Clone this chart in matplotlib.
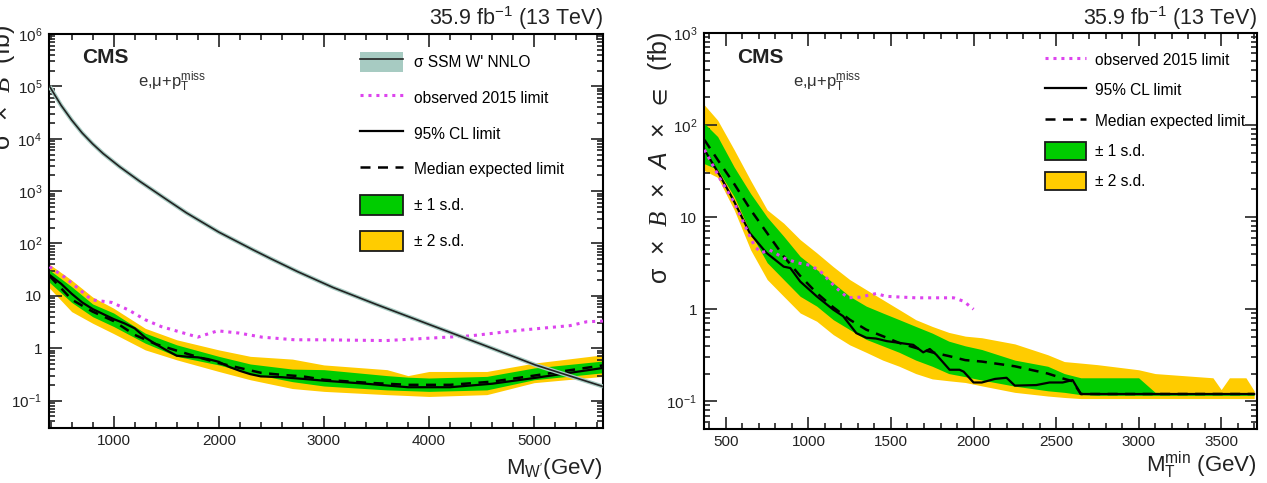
"""
Two-panel CMS limit plot: W' -> e,mu + MET exclusion limits (left) and
model-independent limits vs M_T^min (right).
"""
import matplotlib

matplotlib.use("Agg")
import matplotlib.pyplot as plt
from matplotlib.lines import Line2D
from matplotlib.patches import Patch
from matplotlib.ticker import FixedLocator, FixedFormatter, LogLocator, MultipleLocator, NullFormatter

# ---------------- left panel: sigma x B vs M_W' ----------------
theory_mass = [390, 500, 600, 700, 800, 900, 1057, 1250, 1500, 1692, 2000, 2327, 2500, 2750, 3089, 3500, 4010,
               4500, 5010, 5655]
theory_xsec = [1.0e5, 4.34e4, 2.28e4, 1.29e4, 7.98e3, 5.21e3, 2.92e3, 1.53e3, 698, 385, 165, 75.5, 50.7, 29.0,
               14.4, 6.84, 2.8, 1.19, 0.48, 0.186]

band_mass_l = [390, 600, 800, 1000, 1300, 1600, 2000, 2300, 2700, 3000, 3600, 3800, 4000, 4550, 5000, 5655]
two_up_l = [40, 20, 9.5, 5.8, 2.4, 1.45, 0.93, 0.70, 0.62, 0.48, 0.39, 0.30, 0.36, 0.36, 0.52, 0.75]
one_up_l = [31, 15, 7.0, 4.7, 1.94, 1.16, 0.70, 0.50, 0.40, 0.39, 0.30, 0.28, 0.27, 0.29, 0.42, 0.57]
one_dn_l = [18, 7.5, 4.0, 2.6, 1.25, 0.70, 0.48, 0.33, 0.23, 0.19, 0.16, 0.155, 0.15, 0.16, 0.25, 0.34]
two_dn_l = [14, 5.0, 3.0, 1.9, 0.93, 0.60, 0.36, 0.25, 0.17, 0.15, 0.13, 0.125, 0.12, 0.13, 0.22, 0.29]

exp_mass_l = [390, 500, 600, 800, 1000, 1200, 1400, 1600, 1800, 2000, 2200, 2400, 2600, 2800, 3000, 3400, 3800,
              4200, 4600, 5000, 5300, 5655]
exp_lim_l = [24, 14, 8.5, 5.0, 3.3, 1.8, 1.2, 0.9, 0.68, 0.52, 0.42, 0.34, 0.31, 0.29, 0.25, 0.22, 0.20,
             0.20, 0.23, 0.30, 0.37, 0.47]

obs_mass_l = [390, 500, 600, 700, 800, 1000, 1100, 1200, 1300, 1400, 1500, 1600, 1700, 1800, 1900, 2000, 2100, 2200,
              2300, 2400, 2600, 2800, 3000, 3400, 3800, 4200, 4600, 5000, 5300, 5655]
obs_lim_l = [25, 17, 11, 7.5, 5.6, 3.6, 3.0, 2.4, 1.6, 1.2, 0.92, 0.72, 0.69, 0.67, 0.62, 0.55, 0.44, 0.37,
             0.32, 0.29, 0.28, 0.26, 0.24, 0.21, 0.18, 0.18, 0.21, 0.27, 0.33, 0.42]

old_mass_l = [390, 530, 660, 790, 980, 1140, 1300, 1450, 1610, 1800, 1990, 2190, 2410, 2720, 2960, 3590, 4010,
              4390, 4860, 5340, 5500, 5655]
old_lim_l = [36, 23, 14, 8.4, 7.5, 5.4, 3.5, 2.6, 2.1, 1.63, 2.15, 1.95, 1.63, 1.45, 1.45, 1.4, 1.56,
             1.72, 2.2, 2.7, 3.2, 3.3]

# ---------------- right panel: sigma x B x A x eff vs M_T^min ----------------
band_mass_r = [370, 450, 550, 650, 750, 850, 950, 1050, 1150, 1250, 1350, 1450, 1550, 1650, 1750, 1850, 1950,
               2050, 2250, 2450, 2550, 2650, 2750, 3000, 3100, 3450, 3500, 3550, 3650, 3700]
two_up_r = [165, 113, 54, 25, 12, 8.6, 5.7, 4.1, 2.9, 2.1, 1.63, 1.27, 0.99, 0.77, 0.65, 0.56, 0.51,
            0.49, 0.42, 0.32, 0.27, 0.26, 0.25, 0.22, 0.20, 0.18, 0.134, 0.18, 0.18, 0.13]
one_up_r = [104, 75, 35, 18, 10, 6.2, 3.75, 2.7, 1.93, 1.38, 1.08, 0.91, 0.77, 0.65, 0.55, 0.45, 0.40,
            0.365, 0.28, 0.24, 0.20, 0.18, 0.18, 0.18, 0.125, 0.122, 0.122, 0.122, 0.122, 0.122]
one_dn_r = [38, 33, 16.7, 6.7, 3.2, 2.1, 1.38, 1.08, 0.77, 0.60, 0.47, 0.40, 0.34, 0.28, 0.24, 0.20, 0.185,
            0.17, 0.146, 0.13, 0.125, 0.118, 0.116, 0.116, 0.116, 0.116, 0.116, 0.116, 0.116, 0.116]
two_dn_r = [32, 27, 12, 4.4, 2.1, 1.38, 0.91, 0.74, 0.53, 0.41, 0.34, 0.28, 0.24, 0.20, 0.175, 0.167, 0.16,
            0.147, 0.125, 0.114, 0.11, 0.107, 0.107, 0.107, 0.107, 0.107, 0.107, 0.107, 0.107, 0.107]

exp_mass_r = [370, 450, 550, 650, 750, 850, 950, 1050, 1150, 1250, 1350, 1450, 1550, 1650, 1750, 1850, 1950,
              2050, 2250, 2450, 2550, 2600, 2650, 3700]
exp_lim_r = [69, 42, 23, 12, 6.7, 3.75, 2.3, 1.5, 1.05, 0.77, 0.60, 0.51, 0.43, 0.38, 0.34, 0.31, 0.28,
             0.27, 0.24, 0.20, 0.175, 0.165, 0.12, 0.12]

obs_mass_r = [370, 465, 545, 645, 745, 850, 890, 950, 1050, 1150, 1210, 1290, 1350, 1410, 1475, 1555, 1635,
              1695, 1735, 1775, 1855, 1915, 1940, 2000, 2050, 2130, 2200, 2250, 2380, 2460, 2540, 2600, 2650, 3700]
obs_lim_r = [54, 28, 15.4, 6.7, 4.1, 2.9, 2.8, 2.0, 1.38, 0.99, 0.84, 0.55, 0.49, 0.48, 0.45, 0.43, 0.41,
             0.34, 0.37, 0.32, 0.22, 0.22, 0.21, 0.16, 0.16, 0.175, 0.18, 0.148, 0.15, 0.16, 0.16, 0.17, 0.12, 0.12]

old_mass_r = [370, 465, 545, 645, 675, 715, 765, 850, 930, 1010, 1070, 1130, 1190, 1240, 1310, 1410, 1470,
              1650, 1880, 1940, 2000]
old_lim_r = [54, 26, 15, 6.2, 4.8, 4.1, 4.4, 3.6, 3.2, 3.0, 2.6, 2.0, 1.57, 1.33, 1.35, 1.48, 1.38,
             1.33, 1.33, 1.22, 1.0]

# tick labels
ytick_vals_l = [1e-1, 1, 10, 1e2, 1e3, 1e4, 1e5, 1e6]
ytick_text_l = ["$10^{-1}$", "1", "10", "$10^{2}$", "$10^{3}$", "$10^{4}$", "$10^{5}$", "$10^{6}$"]
ytick_vals_r = [1e-1, 1, 10, 1e2, 1e3]
ytick_text_r = ["$10^{-1}$", "1", "10", "$10^{2}$", "$10^{3}$"]

# colours
GREEN = "#00cc00"
YELLOW = "#ffcc00"
MAGENTA = "#dd44ee"
TEAL = "#a7cbc2"
INK = "#222222"

plt.rcParams["font.family"] = ["Liberation Sans", "DejaVu Sans"]
plt.rcParams["mathtext.fontset"] = "custom"
plt.rcParams["mathtext.rm"] = "Liberation Sans"
plt.rcParams["mathtext.it"] = "Liberation Sans:italic"
plt.rcParams["mathtext.bf"] = "Liberation Sans:bold"
plt.rcParams["mathtext.cal"] = "Liberation Serif:italic"
plt.rcParams["mathtext.fallback"] = "stixsans"
plt.rcParams["axes.linewidth"] = 1.5


def style_axis(ax, xmajor, xminor, yvals, ytext):
    """ROOT-like frame: inward ticks on all four sides."""
    ax.set_yscale("log")
    ax.xaxis.set_major_locator(MultipleLocator(xmajor))
    ax.xaxis.set_minor_locator(MultipleLocator(xminor))
    ax.yaxis.set_major_locator(FixedLocator(yvals))
    ax.yaxis.set_major_formatter(FixedFormatter(ytext))
    ax.yaxis.set_minor_locator(LogLocator(base=10, subs=range(2, 10), numticks=20))
    ax.yaxis.set_minor_formatter(NullFormatter())
    ax.tick_params(which="both", direction="in", top=True, right=True, labelsize=11, width=1.2, colors=INK)
    ax.tick_params(which="major", length=9)
    ax.tick_params(which="minor", length=4.5)
    ax.tick_params(axis="x", pad=4)
    ax.tick_params(axis="y", pad=5)


def draw_bands(ax, mass, two_dn, two_up, one_dn, one_up):
    ax.fill_between(mass, two_dn, two_up, color=YELLOW, lw=0, zorder=1)
    ax.fill_between(mass, one_dn, one_up, color=GREEN, lw=0, zorder=2)


fig = plt.figure(figsize=(12.67, 4.83), dpi=100)
ax_l = fig.add_axes([0.0387, 0.1139, 0.4372, 0.8157])
ax_r = fig.add_axes([0.5556, 0.1118, 0.4365, 0.8199])

# ---- left panel ----
draw_bands(ax_l, band_mass_l, two_dn_l, two_up_l, one_dn_l, one_up_l)
ax_l.plot(exp_mass_l, exp_lim_l, color="black", lw=1.8, ls=(0, (4, 3)), zorder=3)
ax_l.plot(obs_mass_l, obs_lim_l, color="black", lw=1.6, zorder=4)
ax_l.plot(old_mass_l, old_lim_l, color=MAGENTA, lw=2.2, ls=(0, (1, 1.6)), zorder=4)
ax_l.plot(theory_mass, theory_xsec, color=TEAL, lw=3, solid_capstyle="butt", zorder=5)
ax_l.plot(theory_mass, theory_xsec, color=INK, lw=1.2, zorder=6)
ax_l.set_xlim(385, 5655)
ax_l.set_ylim(0.03, 1e6)
style_axis(ax_l, 1000, 200, ytick_vals_l, ytick_text_l)

# ---- right panel ----
draw_bands(ax_r, band_mass_r, two_dn_r, two_up_r, one_dn_r, one_up_r)
ax_r.plot(exp_mass_r, exp_lim_r, color="black", lw=1.8, ls=(0, (4, 3)), zorder=3)
ax_r.plot(obs_mass_r, obs_lim_r, color="black", lw=1.6, zorder=4)
ax_r.plot(old_mass_r, old_lim_r, color=MAGENTA, lw=2.2, ls=(0, (1, 1.6)), zorder=4)
ax_r.set_xlim(367, 3717)
ax_r.set_ylim(0.05, 1e3)
style_axis(ax_r, 500, 100, ytick_vals_r, ytick_text_r)

# ---- legends ----
obs_h = Line2D([], [], color="black", lw=1.6)
exp_h = Line2D([], [], color="black", lw=1.8, ls=(0, (4, 3)))
old_h = Line2D([], [], color=MAGENTA, lw=2.2, ls=(0, (1, 1.6)))
one_h = Patch(facecolor=GREEN, edgecolor="#1a1a1a", lw=1.3)
two_h = Patch(facecolor=YELLOW, edgecolor="#1a1a1a", lw=1.3)
th_h = (Patch(facecolor=TEAL, edgecolor="none"), Line2D([], [], color=INK, lw=1.2))

ax_l.legend([th_h, old_h, obs_h, exp_h, one_h, two_h],
            ["σ SSM W' NNLO", "observed 2015 limit", "95% CL limit", "Median expected limit",
             "± 1 s.d.", "± 2 s.d."],
            loc="upper left", bbox_to_anchor=(0.561, 0.955), frameon=False, fontsize=11.2,
            handlelength=2.8, handleheight=1.6, labelspacing=1.02, handletextpad=0.7,
            borderpad=0, borderaxespad=0)
ax_r.legend([old_h, obs_h, exp_h, one_h, two_h],
            ["observed 2015 limit", "95% CL limit", "Median expected limit", "± 1 s.d.", "± 2 s.d."],
            loc="upper left", bbox_to_anchor=(0.617, 0.955), frameon=False, fontsize=11.2,
            handlelength=2.6, handleheight=1.45, labelspacing=0.76, handletextpad=0.6,
            borderpad=0, borderaxespad=0)

# ---- annotations ----
fig.text(603 / 1267, 1 - 25 / 483, "35.9 fb$^{-1}$ (13 TeV)", ha="right", va="baseline", fontsize=15.5, color=INK)
fig.text(1257 / 1267, 1 - 25 / 483, "35.9 fb$^{-1}$ (13 TeV)", ha="right", va="baseline", fontsize=15.5,
         color=INK)
fig.text(82 / 1267, 1 - 63 / 483, "CMS", fontsize=15, fontweight="bold", color=INK)
fig.text(737 / 1267, 1 - 63 / 483, "CMS", fontsize=15, fontweight="bold", color=INK)
fig.text(138 / 1267, 1 - 87 / 483, r"e,μ+p$_{\rm T}^{\rm miss}$", fontsize=12, color="#333333")
fig.text(793 / 1267, 1 - 87 / 483, r"e,μ+p$_{\rm T}^{\rm miss}$", fontsize=12, color="#333333")

fig.text(603 / 1267, 1 - 474 / 483, r"M$_{\rm W'}$(GeV)", ha="right", va="baseline", fontsize=16, color=INK)
fig.text(1257 / 1267, 1 - 472 / 483, r"M$_{\rm T}^{\rm min}$ (GeV)", ha="right", va="baseline", fontsize=16,
         color=INK)
fig.text(3 / 1267, 1 - 25 / 483, r"σ  ×  $\mathcal{B}$  (fb)", rotation=90, ha="center", va="top",
         fontsize=18, color=INK)
fig.text(660 / 1267, 1 - 32 / 483, r"σ  ×  $\mathcal{B}$  ×  $\mathit{A}$  ×  $\in$  (fb)", rotation=90,
         ha="center", va="top", fontsize=18, color=INK)

fig.savefig("out.png", dpi=100)
